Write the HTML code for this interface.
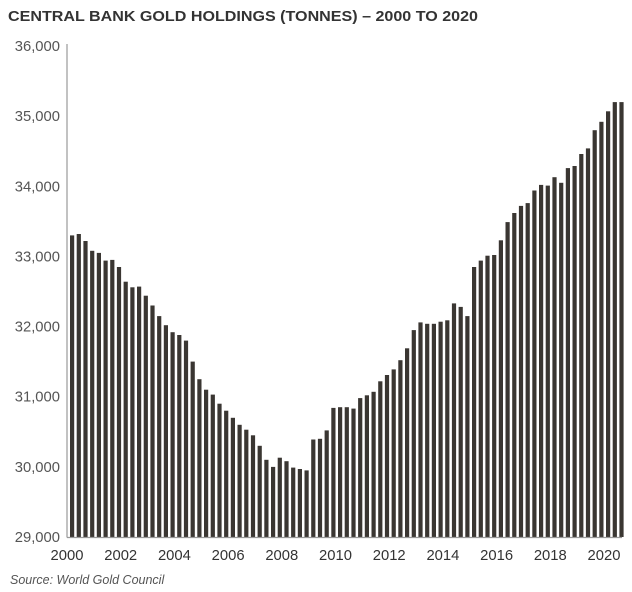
<!DOCTYPE html>
<html><head><meta charset="utf-8"><style>
html,body{margin:0;padding:0;background:#fff;width:632px;height:592px;overflow:hidden}
svg{display:block;font-family:"Liberation Sans",sans-serif}
</style></head><body>
<svg id="c" width="632" height="592" xmlns="http://www.w3.org/2000/svg">
<text x="8" y="21" font-size="14.5" font-weight="bold" fill="#333" textLength="470" lengthAdjust="spacingAndGlyphs">CENTRAL BANK GOLD HOLDINGS (TONNES) – 2000 TO 2020</text>
<text x="10" y="584" font-size="12.5" font-style="italic" fill="#555">Source: World Gold Council</text>
</svg>
<script>
var v=[33300,33320,33220,33080,33050,32940,32950,32850,32640,32560,32570,32440,32300,32150,32020,31920,31880,31800,31500,31250,31100,31030,30900,30800,30700,30600,30530,30450,30300,30100,30000,30130,30080,29990,29970,29950,30390,30400,30520,30840,30850,30850,30830,30980,31020,31070,31220,31310,31390,31520,31690,31950,32060,32040,32040,32070,32090,32330,32280,32150,32850,32940,33010,33020,33230,33490,33620,33720,33760,33940,34020,34010,34130,34050,34260,34290,34460,34540,34800,34920,35070,35200,35200];
var s=document.getElementById('c'),h='';
function Y(x){return 537-(x-29000)*0.07014;}
for(var i=0;i<v.length;i++){var x=70+i*6.7,y=Y(v[i]);h+='<rect x="'+x.toFixed(1)+'" y="'+y.toFixed(1)+'" width="4.2" height="'+(537-y).toFixed(1)+'" fill="#3a3632"/>';}
for(var k=0;k<=7;k++){var yy=Y(29000+k*1000);h+='<text x="60" y="'+(yy+5).toFixed(1)+'" font-size="14.8" fill="#555" text-anchor="end">'+(29+k)+',000</text>';}
for(var k=0;k<=10;k++){h+='<text x="'+(67+k*53.7).toFixed(1)+'" y="560" font-size="14.8" fill="#333" text-anchor="middle">'+(2000+2*k)+'</text>';}
h+='<line x1="67" y1="44" x2="67" y2="537.5" stroke="#999" stroke-width="1.2"/><line x1="67" y1="537.5" x2="622" y2="537.5" stroke="#999" stroke-width="1.2"/>';
s.insertAdjacentHTML('beforeend',h);
</script>
</body></html>
